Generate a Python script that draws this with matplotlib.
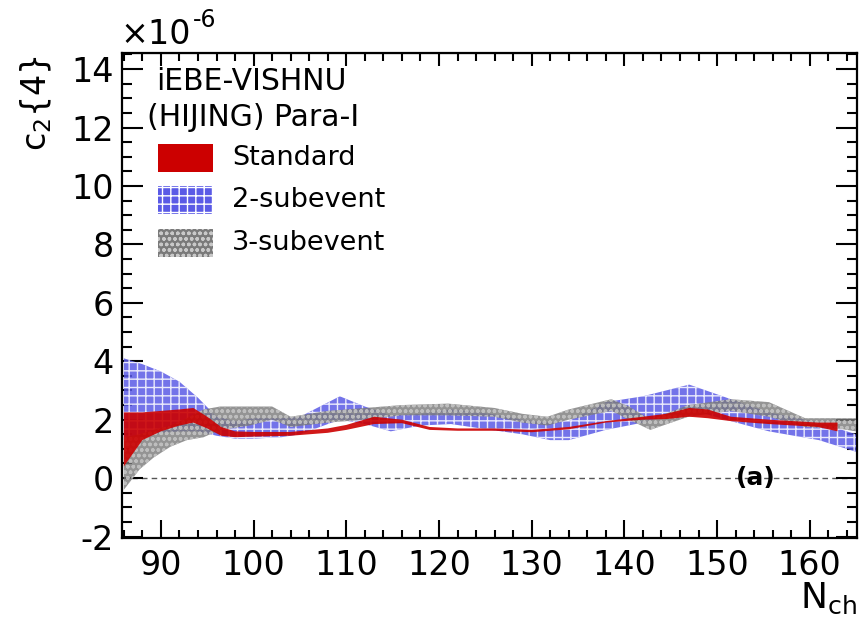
import matplotlib
matplotlib.use("Agg")
import matplotlib.pyplot as plt
from matplotlib.ticker import MultipleLocator
import numpy as np

plt.rcParams['font.family'] = ['DejaVu Sans']
plt.rcParams['hatch.linewidth'] = 1.0
plt.rcParams['axes.unicode_minus'] = False

# Standard cumulant band
std_x  = [86, 88, 90, 92, 93.5, 95, 96.5, 98, 100, 104, 108, 110, 113, 116, 119, 122, 126, 130, 134, 138, 142, 144.5, 147, 149, 151.5, 155.6, 160.9, 163]
std_hi = [2.25, 2.25, 2.3, 2.35, 2.4, 2.1, 1.75, 1.6, 1.58, 1.58, 1.7, 1.82, 2.1, 2.0, 1.75, 1.7, 1.7, 1.65, 1.75, 1.95, 2.1, 2.2, 2.4, 2.35, 2.1, 2.0, 1.9, 1.9]
std_lo = [0.4, 1.3, 1.6, 1.8, 1.9, 1.7, 1.45, 1.4, 1.42, 1.45, 1.55, 1.65, 1.85, 1.88, 1.65, 1.62, 1.62, 1.57, 1.67, 1.9, 2.0, 2.02, 2.1, 2.05, 1.95, 1.85, 1.75, 1.6]

# 2-subevent band
sub2_x  = [86, 88, 90, 92, 94, 96, 98, 100, 103, 105, 109.3, 112, 114.8, 118, 121.3, 125.6, 129, 132, 134, 138, 142, 147, 151.5, 155.6, 161, 165]
sub2_hi = [4.1, 3.9, 3.65, 3.3, 2.75, 2.1, 1.95, 2.05, 2.05, 2.1, 2.8, 2.45, 2.15, 2.2, 2.35, 2.2, 2.0, 1.9, 1.95, 2.6, 2.8, 3.2, 2.7, 2.25, 1.9, 1.5]
sub2_lo = [1.3, 1.4, 1.55, 1.6, 1.6, 1.45, 1.35, 1.35, 1.4, 1.5, 2.0, 1.85, 1.6, 1.8, 1.85, 1.65, 1.5, 1.3, 1.3, 1.65, 1.9, 2.35, 1.95, 1.6, 1.3, 0.9]

# 3-subevent band
sub3_x  = [86, 87.7, 89.2, 91, 92.8, 94.6, 96.4, 99.6, 102, 104, 108, 112, 116, 121, 126, 129, 131.7, 134, 138.6, 140.5, 142.8, 146.9, 151.5, 155.6, 159.5, 163, 165]
sub3_hi = [1.4, 1.5, 1.65, 1.8, 2.05, 2.35, 2.45, 2.45, 2.45, 2.1, 2.3, 2.4, 2.5, 2.55, 2.4, 2.2, 2.1, 2.35, 2.7, 2.45, 2.0, 2.5, 2.7, 2.6, 2.05, 2.05, 2.05]
sub3_lo = [-0.4, 0.3, 0.7, 1.07, 1.3, 1.4, 1.65, 1.8, 2.0, 1.75, 1.9, 2.0, 2.15, 2.15, 2.1, 1.9, 1.8, 2.0, 2.3, 2.0, 1.65, 2.1, 2.3, 2.1, 1.75, 1.7, 1.6]

x_ticks = [90, 100, 110, 120, 130, 140, 150, 160]
y_ticks = [-2, 0, 2, 4, 6, 8, 10, 12, 14]

RED = '#cc0000'
BLUE = '#5a5ae6'
GRAY = '#7a7a7a'
GRAY_HATCH = '#c8c8c8'

fig = plt.figure(figsize=(8.65, 6.26), dpi=100)
ax = fig.add_axes([122/865, 1-538/626, (857-122)/865, (538-53)/626])

def band(x, lo, hi, face, hatch, hatch_col, alpha, z):
    ax.fill_between(x, lo, hi, facecolor=face, edgecolor='none', alpha=alpha, zorder=z)
    if hatch:
        ax.fill_between(x, lo, hi, facecolor='none', edgecolor=hatch_col, hatch=hatch,
                        linewidth=0, alpha=alpha, zorder=z + 0.1)

band(sub2_x, sub2_lo, sub2_hi, BLUE, '++', 'white', 0.85, 2)
band(sub3_x, sub3_lo, sub3_hi, GRAY, 'ooo', GRAY_HATCH, 0.8, 3)
band(std_x, std_lo, std_hi, RED, None, None, 0.9, 4)

ax.axhline(0, color='#555555', lw=1.0, ls=(0, (4, 3)), zorder=1)

ax.set_xlim(85.8, 165.1)
ax.set_ylim(-2.05, 14.55)
ax.set_xticks(x_ticks)
ax.set_yticks(y_ticks)
ax.xaxis.set_minor_locator(MultipleLocator(2))
ax.yaxis.set_minor_locator(MultipleLocator(0.5))
ax.tick_params(axis='both', which='major', direction='in', labelsize=24, width=1.5, color='black')
ax.tick_params(axis='x', which='major', length=13, pad=8)
ax.tick_params(axis='x', which='minor', direction='in', length=6, width=1.5)
ax.tick_params(axis='y', which='major', length=15, pad=6, right=True)
ax.tick_params(axis='y', which='minor', direction='in', length=7, width=1.5, right=True)
for s in ax.spines.values():
    s.set_linewidth(1.6)

top = ax.secondary_xaxis('top')
top.set_xticks(x_ticks)
top.xaxis.set_minor_locator(MultipleLocator(2))
top.tick_params(which='major', direction='in', length=9, width=1.5, labeltop=False)
top.tick_params(which='minor', direction='in', length=6, width=1.5)
top.set_xticklabels([])

# exponent multiplier for the y axis
fig.text(120/865, 1-35/626, '\u00d710', fontsize=24, ha='left', va='center')
fig.text(193/865, 1-20/626, '-6', fontsize=17, ha='left', va='center')
fig.text(36/865, 1-103/626, r'c$_{\mathregular{2}}${4}', fontsize=24, rotation=90, ha='center', va='center')
fig.text(1-8/865, 1-598/626, r'N$_{\mathregular{ch}}$', fontsize=26, ha='right', va='center')

ax.text(154.2, 0, '(a)', fontsize=18, fontweight='bold', ha='center', va='center', zorder=6)

ax.text(0.046, (538 - 81) / 485, 'iEBE-VISHNU', transform=ax.transAxes, fontsize=21.5, ha='left', va='center')
ax.text(0.034, (538 - 117) / 485, '(HIJING) Para-I', transform=ax.transAxes, fontsize=21.5, ha='left', va='center')

legend_rows = [('Standard', RED, None, None), ('2-subevent', BLUE, '++', 'white'), ('3-subevent', GRAY, 'ooo', GRAY_HATCH)]
row_y = [158, 200, 243]
for (lab, col, h, hc), py in zip(legend_rows, row_y):
    x0 = (158 - 122) / 735
    w = 55 / 735
    yc = (538 - py) / 485
    hh = 28 / 485
    ax.add_patch(plt.Rectangle((x0, yc - hh/2), w, hh, transform=ax.transAxes,
                               facecolor=col, edgecolor='none', zorder=5))
    if h:
        ax.add_patch(plt.Rectangle((x0, yc - hh/2), w, hh, transform=ax.transAxes,
                                   facecolor='none', edgecolor=hc, hatch=h, lw=0, zorder=5.1))
    ax.text((232 - 122) / 735, yc, lab, transform=ax.transAxes, fontsize=19.5, ha='left', va='center')

fig.savefig('out.png', dpi=100)
